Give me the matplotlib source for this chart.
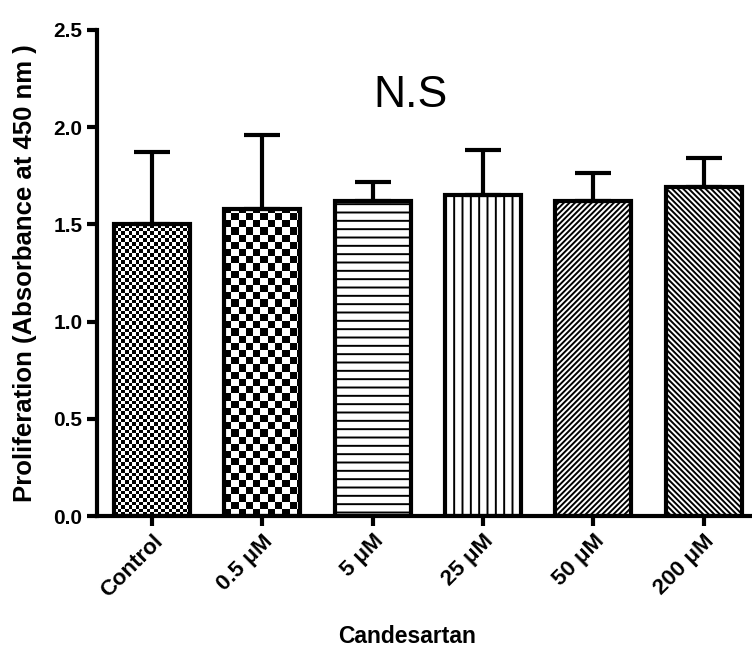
import numpy as np
import matplotlib.pyplot as plt

plt.rcParams['font.family'] = ['Liberation Sans', 'DejaVu Sans']
plt.rcParams['hatch.linewidth'] = 1.4

groups = ['Control', '0.5 μM', '5 μM', '25 μM', '50 μM', '200 μM']
means = [1.50, 1.58, 1.62, 1.65, 1.62, 1.69]
sem = [0.37, 0.38, 0.10, 0.235, 0.145, 0.15]
hatches = [None, None, '--', '||', '//////', '\\\\\\\\\\\\']
checker_px = [3.6, 7.2, None, None, None, None]   # checker cell size in pixels

fig = plt.figure(figsize=(7.52, 6.65), dpi=100)
ax = fig.add_axes([0.129, 0.224, 0.880, 0.731])
ax.set_xlim(-0.5, 5.5)
ax.set_ylim(0, 2.5)

x = np.arange(len(groups))
bars = ax.bar(x, means, width=0.69, facecolor='none', edgecolor='black', linewidth=3, zorder=2)
for b, h in zip(bars, hatches):
    if h:
        b.set_hatch(h)

# checkerboard fills for Control and 0.5 uM
px_x = 6 / (0.880 * 752)
px_y = 2.5 / (0.731 * 665)
for b, c in zip(bars, checker_px):
    if c is None:
        continue
    cx, cy = c * px_x, c * px_y
    x0, w, h = b.get_x(), b.get_width(), b.get_height()
    nx = int(np.ceil(w / cx)) + 1
    ny = int(np.ceil(h / cy)) + 1
    board = np.add.outer(np.arange(ny), np.arange(nx)) % 2
    im = ax.imshow(board, cmap='gray', extent=[x0, x0 + nx * cx, 0, ny * cy],
                   origin='lower', interpolation='nearest', aspect='auto', zorder=1)
    im.set_clip_path(b)

ax.errorbar(x, means, yerr=[np.zeros(len(sem)), sem], fmt='none', ecolor='black',
            elinewidth=3, capsize=13, capthick=3, zorder=3)

ax.set_xlim(-0.5, 5.5)
ax.set_ylim(0, 2.5)
ax.set_yticks([0, 0.5, 1.0, 1.5, 2.0, 2.5])
ax.set_yticklabels(['0.0', '0.5', '1.0', '1.5', '2.0', '2.5'], fontweight='bold', fontsize=15)
ax.set_xticks(x)
ax.set_xticklabels(groups, rotation=45, ha='right', rotation_mode='anchor',
                   fontweight='bold', fontsize=16)

for s in ['top', 'right']:
    ax.spines[s].set_visible(False)
for s in ['left', 'bottom']:
    ax.spines[s].set_linewidth(3)
ax.tick_params(width=3, length=7)

ax.set_ylabel('Proliferation (Absorbance at 450 nm )', fontweight='bold', fontsize=18.5, labelpad=12)
ax.set_xlabel('Candesartan', fontweight='bold', fontsize=16.5)
ax.xaxis.set_label_coords(0.468, -0.225)
ax.text(2.34, 2.165, 'N.S', fontsize=32, ha='center', va='center')

fig.savefig('out.png', dpi=100)
